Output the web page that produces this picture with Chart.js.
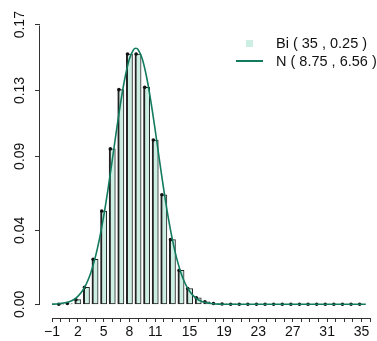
<!DOCTYPE html>
<html>
<head>
<meta charset="utf-8">
<script src="https://cdn.jsdelivr.net/npm/chart.js@4"></script>
<style>
  html, body { margin: 0; padding: 0; background: #fff; overflow: hidden; }
  #wrap { position: relative; width: 377px; height: 341px; overflow: hidden; }
  .leg { position: absolute; font-family: "Liberation Sans", Arial, sans-serif; font-size: 14.5px; color: #111; white-space: nowrap; line-height: 16px; }
  .mark { position: absolute; }
</style>
</head>
<body>
<div id="wrap">
  <canvas id="chart" width="377" height="341"></canvas>
  <div class="mark" id="markBi" style="left:246px; top:40px; width:7px; height:7px;"></div>
  <div class="mark" id="markN" style="left:236px; top:60px; width:27px; height:1.6px;"></div>
  <div class="leg" id="legBi" style="left:276px; top:35px;"></div>
  <div class="leg" id="legN" style="left:276px; top:53px;"></div>
</div>
<script>
// valores
const successes = [0, 1, 2, 3, 4, 5, 6, 7, 8, 9, 10, 11, 12, 13, 14, 15, 16, 17,
  18, 19, 20, 21, 22, 23, 24, 25, 26, 27, 28, 29, 30, 31, 32, 33, 34, 35];
const binomProb = [0.00004, 0.0005, 0.0028, 0.0103, 0.0274, 0.0567, 0.0945, 0.1305,
  0.1522, 0.1522, 0.1319, 0.0999, 0.0666, 0.0393, 0.0206, 0.0096, 0.0040, 0.0015,
  0.0005, 0.00015, 0.00004, 0, 0, 0, 0, 0, 0, 0, 0, 0, 0, 0, 0, 0, 0, 0];

// curva normal N(8.75, 6.56)
const curveX = [-1, -0.5, 0, 0.5, 1, 1.5, 2, 2.5, 3, 3.5, 4, 4.5, 5, 5.5, 6, 6.5, 7,
  7.5, 8, 8.5, 8.75, 9, 9.5, 10, 10.5, 11, 11.5, 12, 12.5, 13, 13.5, 14, 14.5, 15,
  15.5, 16, 16.5, 17, 17.5, 18, 18.5, 19, 20, 22, 25, 28, 31, 34, 35.5];
const curveY = [0.0001, 0.0002, 0.0005, 0.0009, 0.0016, 0.0028, 0.0048, 0.0079,
  0.0125, 0.0191, 0.0279, 0.0393, 0.0533, 0.0696, 0.0875, 0.1059, 0.1233, 0.1382,
  0.1492, 0.1550, 0.1557, 0.1550, 0.1492, 0.1382, 0.1233, 0.1059, 0.0875, 0.0696,
  0.0533, 0.0393, 0.0279, 0.0191, 0.0125, 0.0079, 0.0048, 0.0028, 0.0016, 0.0009,
  0.0005, 0.0002, 0.0001, 0.00005, 0, 0, 0, 0, 0, 0, 0];

const xTickValues = [-1, 0, 1, 2, 3, 4, 5, 6, 7, 8, 9, 10, 11, 12, 13, 14, 15, 16, 17,
  18, 19, 20, 21, 22, 23, 24, 25, 26, 27, 28, 29, 30, 31, 32, 33, 34, 35, 36];
const xTickLabels = [-1, 2, 5, 8, 11, 15, 19, 23, 27, 31, 35];
const yTickValues = [0, 0.045, 0.09, 0.13, 0.17];
const yTickLabels = ['0.00', '0.04', '0.09', '0.13', '0.17'];
const legendLabels = ['Bi ( 35 , 0.25 )', 'N ( 8.75 , 6.56 )'];

const barFill = '#cdeee2';
const curveColor = '#127b5e';
const axisColor = '#333';
const tickFont = { family: 'Liberation Sans', size: 14 };

document.getElementById('legBi').textContent = legendLabels[0];
document.getElementById('legN').textContent = legendLabels[1];
document.getElementById('markBi').style.background = barFill;
document.getElementById('markN').style.background = curveColor;

// linhas dos eixos no estilo do R (só entre o primeiro e o último tick)
const axisLines = {
  id: 'axisLines',
  afterDraw(chart) {
    const { ctx, chartArea, scales: { x, y } } = chart;
    ctx.save();
    ctx.strokeStyle = axisColor;
    ctx.lineWidth = 1;
    ctx.beginPath();
    const lx = Math.round(chartArea.left) - 0.5;
    ctx.moveTo(lx, Math.round(y.getPixelForValue(0)) + 0.5);
    ctx.lineTo(lx, Math.round(y.getPixelForValue(0.17)) + 0.5);
    const by = Math.round(chartArea.bottom) + 0.5;
    ctx.moveTo(Math.round(x.getPixelForValue(-1)) + 0.5, by);
    ctx.lineTo(Math.round(x.getPixelForValue(36)) + 0.5, by);
    ctx.stroke();
    ctx.restore();
  }
};

const ctx = document.getElementById('chart').getContext('2d');
const chart = new Chart(ctx, {
  type: 'bar',
  data: {
    datasets: [
      {
        type: 'line',
        label: legendLabels[1],
        data: curveX.map((v, i) => ({ x: v, y: curveY[i] })),
        borderColor: curveColor,
        borderWidth: 1.6,
        pointRadius: 0,
        tension: 0.3,
        fill: false,
        order: 1
      },
      {
        type: 'scatter',
        label: 'pontos',
        data: successes.map((k, i) => ({ x: k - 0.22, y: binomProb[i] })),
        backgroundColor: '#111',
        borderWidth: 0,
        pointRadius: 1.8,
        order: 2
      },
      {
        type: 'bar',
        label: legendLabels[0],
        data: successes.map((k, i) => ({ x: k, y: binomProb[i] })),
        backgroundColor: barFill,
        borderColor: '#222',
        borderWidth: { left: 2, top: 1, right: 1, bottom: 1 },
        borderSkipped: false,
        barThickness: 6.2,
        order: 3
      }
    ]
  },
  options: {
    responsive: false,
    animation: false,
    events: [],
    layout: { padding: 0, autoPadding: false },
    plugins: { legend: { display: false }, tooltip: { enabled: false } },
    scales: {
      x: {
        type: 'linear',
        min: -2.4,
        max: 36.8,
        offset: false,
        afterBuildTicks: s => { s.ticks = xTickValues.map(v => ({ value: v })); },
        afterFit: s => { s.height = 23; s.paddingLeft = 0; s.paddingRight = 0; },
        ticks: {
          autoSkip: false,
          maxRotation: 0,
          minRotation: 0,
          padding: 2,
          color: '#111',
          font: tickFont,
          callback: v => xTickLabels.includes(v) ? String(v).replace('-', '\u2212') : ''
        },
        grid: { offset: false, drawOnChartArea: false, drawTicks: true, tickLength: 4, color: axisColor },
        border: { display: false }
      },
      y: {
        min: -0.00833,
        max: 0.18502,
        afterBuildTicks: s => { s.ticks = yTickValues.map(v => ({ value: v })); },
        afterFit: s => { s.width = 40; s.paddingTop = 0; s.paddingBottom = 0; },
        ticks: {
          minRotation: 90,
          maxRotation: 90,
          crossAlign: 'center',
          padding: 1,
          color: '#111',
          font: tickFont,
          callback: v => yTickLabels[yTickValues.indexOf(v)]
        },
        grid: { drawOnChartArea: false, drawTicks: true, tickLength: 5, color: axisColor },
        border: { display: false }
      }
    }
  },
  plugins: [axisLines]
});
</script>
</body>
</html>
